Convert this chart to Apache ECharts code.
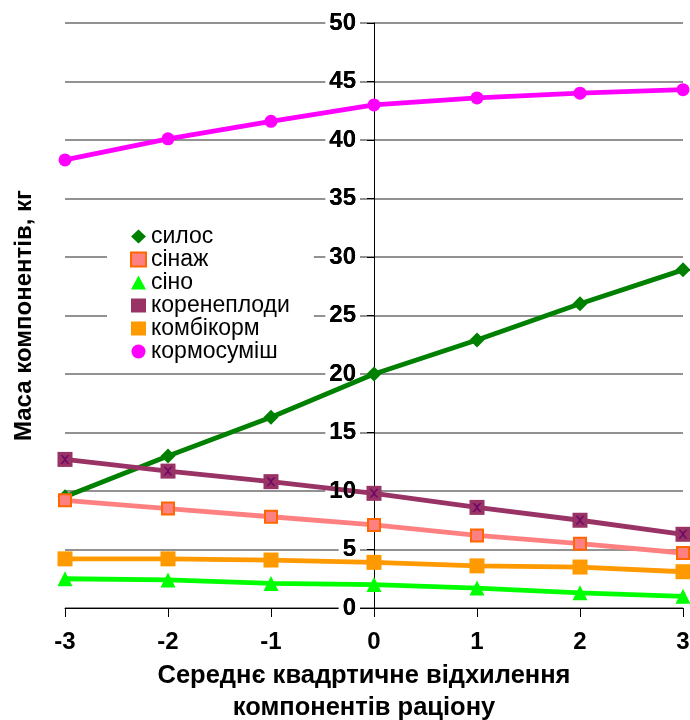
<!DOCTYPE html>
<html>
<head>
<meta charset="utf-8">
<script src="https://cdn.jsdelivr.net/npm/echarts@6/dist/echarts.min.js"></script>
<style>
  html, body { margin: 0; padding: 0; background: #fff; }
  #chart { width: 690px; height: 720px; }
</style>
</head>
<body>
<div id="chart"></div>
<script>
// Standard deviation steps of the ration components
const xSteps = [-3, -2, -1, 0, 1, 2, 3];

// Component masses, kg
const silos       = [9.5, 13.0, 16.3, 20.0, 22.9, 26.0, 28.9];
const sinazh      = [9.2, 8.5, 7.8, 7.1, 6.2, 5.5, 4.7];
const sino        = [2.5, 2.4, 2.1, 2.0, 1.7, 1.3, 1.0];
const koreneplody = [12.7, 11.7, 10.8, 9.8, 8.6, 7.5, 6.3];
const kombikorm   = [4.2, 4.2, 4.1, 3.9, 3.6, 3.5, 3.1];
const kormosumish = [38.3, 40.1, 41.6, 43.0, 43.6, 44.0, 44.3];

const pairs = vals => xSteps.map((x, i) => [x, vals[i]]);

const FONT = 'Arial, "Liberation Sans", sans-serif';

const GRID_LEFT = 65;
const GRID_RIGHT = 7;
const CHART_W = 690;
// y axis is drawn through x = 0 of the symmetric x range
const Y_AXIS_SHIFT = (CHART_W - GRID_LEFT - GRID_RIGHT) / 2;

const yLabelStyle = { fontFamily: FONT, fontSize: 24, fontWeight: 'bold', color: '#000', margin: 14, padding: [0, 4, 0, 4] };

const chart = echarts.init(document.getElementById('chart'), null, { renderer: 'canvas' });

function lineSeries(name, vals, color, symbol, size, extraItem) {
  return {
    name: name,
    type: 'line',
    data: pairs(vals),
    symbol: symbol,
    symbolSize: size,
    showAllSymbol: true,
    lineStyle: { color: color, width: 4.8 },
    itemStyle: Object.assign({ color: color }, extraItem || {}),
    emphasis: { disabled: true },
    animation: false,
    z: 3
  };
}

const xCross = 'path://M0,0 L2,0 L5,3 L8,0 L10,0 L6,5 L10,10 L8,10 L5,7 L2,10 L0,10 L4,5 Z';

chart.setOption({
  animation: false,
  grid: { left: GRID_LEFT, right: GRID_RIGHT, top: 23, bottom: 112, containLabel: false, outerBoundsMode: 'none' },
  legend: {
    orient: 'vertical',
    left: 107,
    top: 224,
    backgroundColor: '#ffffff',
    padding: [1, 24, 1, 23],
    itemGap: 0,
    itemWidth: 15,
    itemHeight: 14,
    textStyle: { fontFamily: FONT, fontSize: 23, lineHeight: 21.4, color: '#000' },
    data: [
      { name: 'силос', icon: 'diamond' },
      { name: 'сінаж', icon: 'rect', itemStyle: { color: '#FF8080', borderColor: '#FF6600', borderWidth: 2 } },
      { name: 'сіно', icon: 'triangle' },
      { name: 'коренеплоди', icon: 'rect' },
      { name: 'комбікорм', icon: 'rect' },
      { name: 'кормосуміш', icon: 'circle' }
    ]
  },
  xAxis: {
    type: 'value',
    min: -3,
    max: 3,
    interval: 1,
    name: 'Середнє квадртичне відхилення\nкомпонентів раціону',
    nameLocation: 'middle',
    nameGap: 52,
    nameTextStyle: {
      fontFamily: FONT, fontSize: 25.5, fontWeight: 'bold', color: '#000',
      lineHeight: 32, padding: [0, 20, 0, 0]
    },
    axisLine: { show: true, onZero: false, lineStyle: { color: '#000', width: 1 } },
    axisTick: { show: true, inside: false, length: 9, lineStyle: { color: '#000' } },
    axisLabel: {
      fontFamily: FONT, fontSize: 24, fontWeight: 'bold', color: '#000', margin: 22,
      formatter: v => String(v)
    },
    splitLine: { show: false }
  },
  yAxis: [
    {
      // main value axis: line, ticks, grid lines and label plates
      type: 'value',
      position: 'left',
      offset: -Y_AXIS_SHIFT,
      min: 0,
      max: 50,
      interval: 5,
      name: 'Маса компонентів, кг',
      nameLocation: 'middle',
      nameGap: 338,
      nameRotate: 90,
      nameTextStyle: { fontFamily: FONT, fontSize: 24, fontWeight: 'bold', color: '#000' },
      axisLine: { show: true, onZero: false, lineStyle: { color: '#000', width: 1 } },
      axisTick: { show: true, inside: false, length: 7, lineStyle: { color: '#000' } },
      axisLabel: Object.assign({}, yLabelStyle, { backgroundColor: '#ffffff' }),
      splitLine: { show: true, lineStyle: { color: '#6e6e6e', width: 1.5 } }
    },
    {
      // same scale, tick numbers only, drawn above the series lines
      type: 'value',
      position: 'left',
      offset: -Y_AXIS_SHIFT,
      min: 0,
      max: 50,
      interval: 5,
      z: 10,
      axisLine: { show: false },
      axisTick: { show: false },
      splitLine: { show: false },
      axisLabel: yLabelStyle
    }
  ],
  series: [
    lineSeries('силос', silos, '#008000', 'diamond', 15),
    lineSeries('сінаж', sinazh, '#FF8080', 'rect', 12, { borderColor: '#FF6600', borderWidth: 2 }),
    lineSeries('сіно', sino, '#00FF00', 'triangle', 15),
    lineSeries('коренеплоди', koreneplody, '#993366', 'rect', 15),
    lineSeries('комбікорм', kombikorm, '#FF9900', 'rect', 15),
    lineSeries('кормосуміш', kormosumish, '#FF00FF', 'circle', 13),
    {
      // cross drawn on top of the root-crop square markers
      name: 'коренеплоди-x',
      type: 'scatter',
      data: pairs(koreneplody),
      symbol: xCross,
      symbolSize: 9,
      itemStyle: { color: '#660066' },
      emphasis: { disabled: true },
      silent: true,
      z: 4
    }
  ]
});
</script>
</body>
</html>
